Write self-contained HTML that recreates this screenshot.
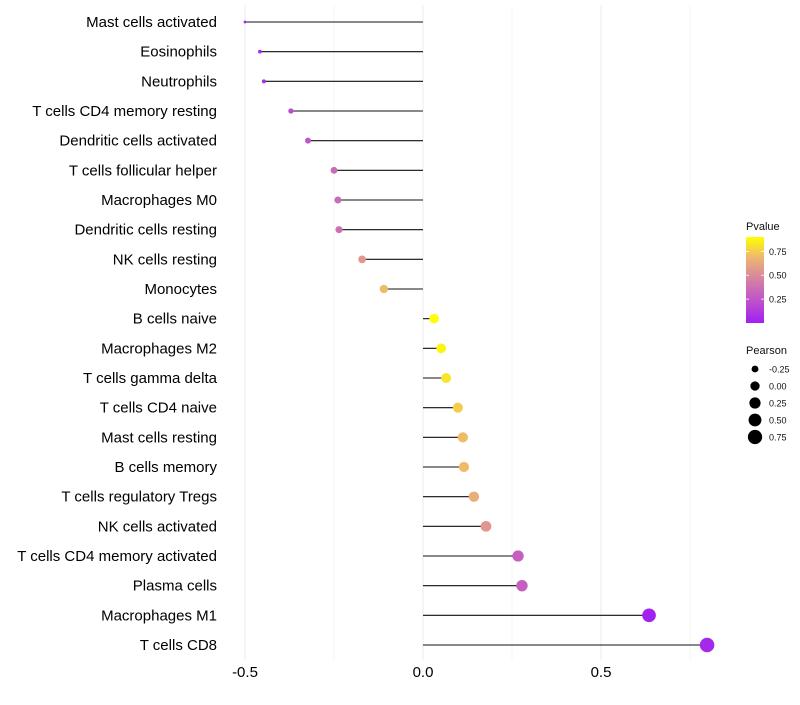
<!DOCTYPE html>
<html><head><meta charset="utf-8"><style>
body{margin:0;background:#fff;font-family:"Liberation Sans",sans-serif}
</style></head><body>
<svg id="chart" width="800" height="700" xmlns="http://www.w3.org/2000/svg" font-family="Liberation Sans, sans-serif">
<g id="grid"></g>
<g id="marks"></g>
<g id="ylab"></g>
<g id="xlab"></g>
<g id="legend"></g>
</svg>
<script>
const categories=["Mast cells activated","Eosinophils","Neutrophils","T cells CD4 memory resting","Dendritic cells activated","T cells follicular helper","Macrophages M0","Dendritic cells resting","NK cells resting","Monocytes","B cells naive","Macrophages M2","T cells gamma delta","T cells CD4 naive","Mast cells resting","B cells memory","T cells regulatory  Tregs ","NK cells activated","T cells CD4 memory activated","Plasma cells","Macrophages M1","T cells CD8"];
const pearson=[-0.5,-0.458,-0.447,-0.371,-0.323,-0.25,-0.239,-0.236,-0.171,-0.11,0.031,0.051,0.065,0.098,0.112,0.115,0.143,0.177,0.267,0.278,0.635,0.798];
const pvalues=[0.02,0.05,0.07,0.2,0.25,0.35,0.35,0.37,0.55,0.7,0.9,0.87,0.82,0.75,0.7,0.7,0.65,0.55,0.3,0.3,0.01,0.04];
const xTicks=[-0.5,0,0.5];
const xTickLabels=["-0.5","0.0","0.5"];
const xMinor=[-0.25,0.25,0.75];
const pTicks=[0.25,0.5,0.75];
const pTickLabels=["0.25","0.50","0.75"];
const sTicks=[-0.25,0,0.25,0.5,0.75];
const sTickLabels=["-0.25","0.00","0.25","0.50","0.75"];

const NS="http://www.w3.org/2000/svg";
const x=v=>423+v*356;
const y=i=>22+i*(645-22)/21;
const rOf=v=>Math.sqrt(2+(v+0.5)/1.3*51);
const pMin=0,pMax=0.9;
const stops=[[160,32,240],[190,80,205],[212,128,165],[236,180,115],[255,255,0]];
function col(p){let t=Math.max(0,Math.min(1,(p-pMin)/(pMax-pMin)))*(stops.length-1);
 const i=Math.min(stops.length-2,Math.floor(t)),f=t-i,a=stops[i],b=stops[i+1];
 return `rgb(${a.map((c,k)=>Math.round(c+(b[k]-c)*f)).join(',')})`;}
function el(tag,at,parent,txt){const e=document.createElementNS(NS,tag);for(const k in at)e.setAttribute(k,at[k]);if(txt!=null)e.textContent=txt;parent.appendChild(e);return e;}
const grid=document.getElementById('grid'),marks=document.getElementById('marks'),ylab=document.getElementById('ylab'),xlab=document.getElementById('xlab'),leg=document.getElementById('legend');
xMinor.forEach(v=>{const l=el('line',{x1:x(v),x2:x(v),y1:5,y2:660,stroke:'#f0f0f0','stroke-width':0.6},grid);

});
xTicks.forEach((v,i)=>{const l=el('line',{x1:x(v),x2:x(v),y1:5,y2:660,stroke:'#ebebeb','stroke-width':1},grid);


const t=el('text',{x:x(v),y:677,'text-anchor':'middle','font-size':15,fill:'#000'},xlab,xTickLabels[i]);

});
categories.forEach((c,i)=>{
 const t=el('text',{x:217,y:y(i)+5,'text-anchor':'end','font-size':15,fill:'#000'},ylab,c);
 
 
 const l=el('line',{x1:x(0),x2:x(pearson[i]),y1:y(i),y2:y(i),stroke:'#111','stroke-width':1.1},marks);
 
 
 const d=el('circle',{cx:x(pearson[i]),cy:y(i),r:rOf(pearson[i]),fill:col(pvalues[i])},marks);
 
 
});
el('text',{x:746,y:230,'font-size':11,fill:'#111'},leg,'Pvalue');
const defs=el('defs',{},leg);
const g=el('linearGradient',{id:'pg',x1:0,y1:1,x2:0,y2:0},defs);
stops.forEach((s,i)=>el('stop',{offset:i/(stops.length-1),'stop-color':`rgb(${s.join(',')})`},g));
const bar=el('rect',{x:746,y:237,width:18,height:86,fill:'url(#pg)'},leg);


const py=p=>323-(p-pMin)/(pMax-pMin)*86;
pTicks.forEach((p,i)=>{el('line',{x1:746,x2:749,y1:py(p),y2:py(p),stroke:'#fff','stroke-width':0.8},leg);el('line',{x1:761,x2:764,y1:py(p),y2:py(p),stroke:'#fff','stroke-width':0.8},leg);
 const t=el('text',{x:769,y:py(p)+3.5,'font-size':9,fill:'#111'},leg,pTickLabels[i]);
 
 });
el('text',{x:746,y:354,'font-size':11,fill:'#111'},leg,'Pearson');
sTicks.forEach((v,i)=>{const cy=369+i*17;
 const c=el('circle',{cx:755,cy:cy,r:rOf(v),fill:'#000'},leg);
 
 
 const t=el('text',{x:769,y:cy+3.5,'font-size':9,fill:'#111'},leg,sTickLabels[i]);
 
 });
</script>
</body></html>
